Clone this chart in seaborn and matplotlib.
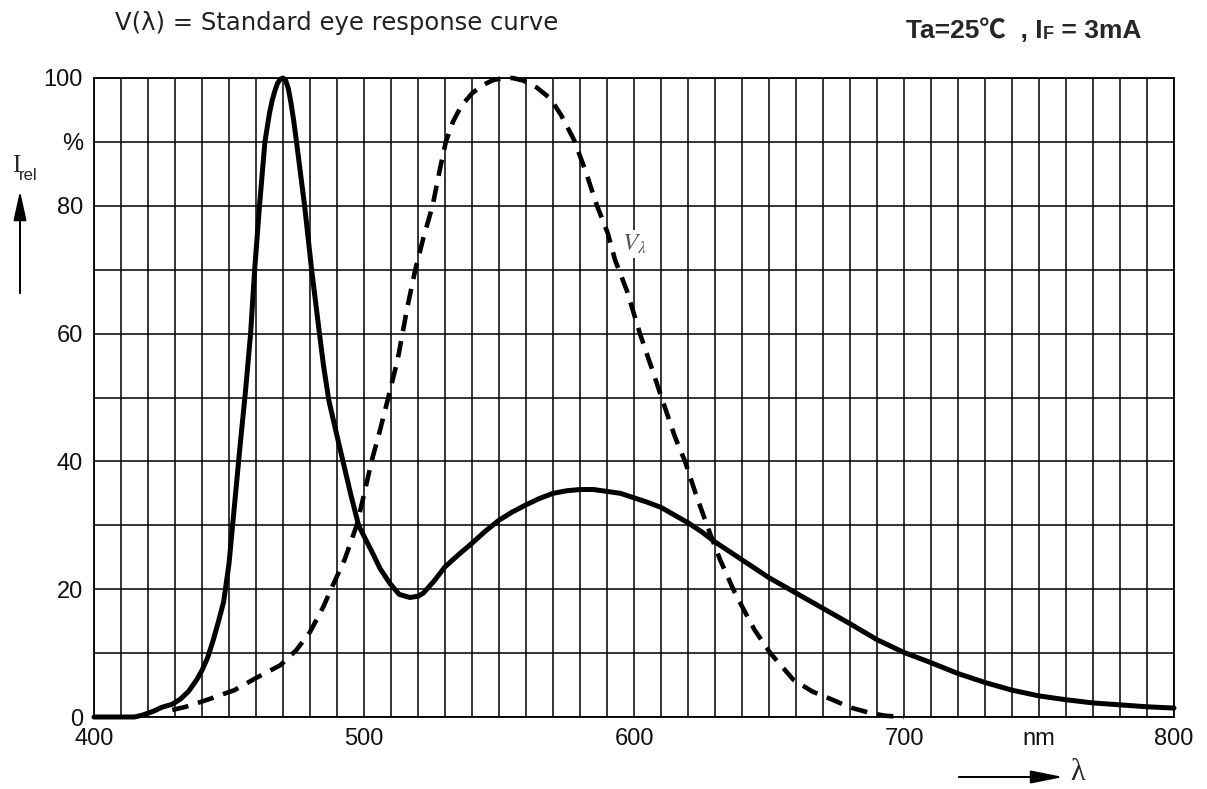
import numpy as np
import pandas as pd
import matplotlib
matplotlib.use("Agg")
import matplotlib.pyplot as plt
import seaborn as sns

# LED relative spectral emission (solid curve)
led_nm = [400, 405, 410, 415, 418, 422, 425, 429, 432, 435, 438, 440, 442, 444, 446, 448,
          450, 452, 454, 456, 458, 459.5, 461.3, 463.3, 465, 466, 467, 468, 469, 470, 471,
          472, 473, 474, 475, 476.5, 478, 480.6, 483.5, 485, 487, 490, 492.5, 495, 498,
          500, 503, 506, 509.6, 513, 517, 520, 522, 526, 530, 535, 540, 545, 550, 555, 560,
          565, 570, 575, 580, 585, 590, 595, 600, 605, 610, 615, 620, 625, 630, 640,
          650, 660, 670, 680, 690, 700, 710, 720, 730, 740, 750, 760, 770, 780, 790, 800]
led_rel = [0, 0, 0, 0, 0.3, 0.9, 1.5, 2.0, 2.8, 4.0, 5.8, 7.3, 9.2, 11.8, 14.8, 18.0,
           24, 33, 42, 50.5, 60, 70, 80, 90, 94.5, 96.5, 98, 99.2, 99.8, 100, 99.6,
           98.3, 96, 93.2, 90, 85, 80, 70, 60, 55, 49.5, 44, 39.5, 35, 30,
           28.3, 25.8, 23.2, 20.9, 19.2, 18.7, 18.9, 19.4, 21.3, 23.5, 25.4, 27.2, 29.1, 30.8, 32.1, 33.2,
           34.2, 35, 35.4, 35.6, 35.6, 35.3, 35, 34.3, 33.6, 32.8, 31.6, 30.4, 29, 27.4, 24.6,
           21.8, 19.4, 17.0, 14.6, 12.1, 10.1, 8.5, 6.8, 5.4, 4.2, 3.3, 2.7, 2.2, 1.9, 1.6, 1.4]

# standard eye response V(lambda) (dashed curve)
eye_nm = [429, 434, 442, 452, 460, 469, 475, 480, 485, 488, 492.8,
          497.3, 500, 502.8, 506, 509, 512.5, 516, 519, 522, 525.4, 528, 530.3, 533, 536,
          540, 544, 548, 552, 555, 559, 564, 569, 573, 577.8, 582, 586.3, 590.3,
          593, 597.3, 602.2, 607.2, 610.2, 615.2, 618.9, 623.2, 628.1, 631.9, 637.5,
          644.7, 650.5, 655, 659.1, 666, 673.5, 680, 687.8, 693, 700]
eye_rel = [1.1, 1.6, 2.7, 4.2, 6.1, 8.1, 10.5, 13.3, 17.3, 20.2, 24.6,
           30, 34.8, 40, 45, 50, 56, 64, 70, 75, 80, 85.5, 90, 93.2, 95.6,
           97.6, 98.9, 99.7, 100, 100, 99.6, 98.5, 96.8, 94.2, 90.3, 85.5, 80, 75.7,
           71.5, 66.8, 60, 53.8, 50, 43.8, 40, 34.5, 28.8, 24.6, 19.3,
           13.6, 10, 7.8, 5.8, 4.0, 2.7, 1.5, 0.6, 0.2, 0]

x_ticks = list(range(400, 801, 10))
x_labels = {400: "400", 500: "500", 600: "600", 700: "700", 750: "nm", 800: "800"}
y_ticks = list(range(0, 101, 10))
y_labels = {0: "0", 20: "20", 40: "40", 60: "60", 80: "80", 90: "%", 100: "100"}

led_df = pd.DataFrame({"nm": led_nm, "rel": led_rel})
eye_df = pd.DataFrame({"nm": eye_nm, "rel": eye_rel})

sns.set_style("white")
plt.rcParams["font.family"] = ["Liberation Sans", "DejaVu Sans"]
plt.rcParams["mathtext.fontset"] = "stix"

W, H = 1207, 789
fig = plt.figure(figsize=(W / 100, H / 100), dpi=100)
ax = fig.add_axes([94 / W, 72 / H, 1080 / W, 639 / H])

sns.lineplot(data=led_df, x="nm", y="rel", ax=ax, color="black", lw=3.6,
             errorbar=None, clip_on=False)
sns.lineplot(data=eye_df, x="nm", y="rel", ax=ax, color="black", lw=3.3,
             errorbar=None, clip_on=False)
ax.lines[-1].set_dashes((3.6, 2.2))

ax.set_xlim(400, 800)
ax.set_ylim(0, 100)
ax.set_xticks(x_ticks)
ax.set_xticklabels([x_labels.get(t, "") for t in x_ticks])
ax.set_yticks(y_ticks)
ax.set_yticklabels([y_labels.get(t, "") for t in y_ticks])
ax.tick_params(length=0, labelsize=17, pad=8, colors="#111111")
ax.set_xlabel("")
ax.set_ylabel("")
ax.grid(True, color="black", lw=1.1)
ax.set_axisbelow(True)
for s in ax.spines.values():
    s.set_color("black")
    s.set_linewidth(1.3)

# V lambda label
ax.text(595.5, 74, r"$V_\lambda$", fontsize=18, color="#555555", va="center", ha="left",
        bbox=dict(facecolor="white", edgecolor="none", pad=1.5))

# I_rel axis marker
fig.text(12 / W, 1 - 172 / H, "I", family="Liberation Serif", fontsize=18, va="baseline")
fig.text(19 / W, 1 - 180 / H, "rel", fontsize=12, va="baseline")
ax.annotate("", xy=(20, H - 188), xytext=(20, H - 296), xycoords="figure pixels",
            textcoords="figure pixels",
            arrowprops=dict(arrowstyle="-|>,head_length=1.0,head_width=0.22",
                            lw=1.4, color="black", mutation_scale=18))

# lambda axis marker
ax.annotate("", xy=(1066, 12), xytext=(956, 12), xycoords="figure pixels",
            textcoords="figure pixels",
            arrowprops=dict(arrowstyle="-|>,head_length=1.1,head_width=0.22",
                            lw=1.4, color="black", mutation_scale=18))
fig.text(1070 / W, 16 / H, "λ", family="Liberation Serif", fontsize=22, va="center")

# header texts
fig.text(115 / W, 1 - 23 / H, "V(λ) = Standard eye response curve",
         family="DejaVu Sans", fontsize=17.5, va="center", color="#222222")
t1 = fig.text(906 / W, 1 - 38 / H, "Ta=25℃  , I", fontsize=19, va="baseline",
              family=["Liberation Sans", "Noto Sans CJK KR"], weight="bold")
t2 = ax.annotate("F", xy=(1, 0), xycoords=t1, fontsize=13, va="bottom",
                 family="Liberation Sans", weight="bold")
t3 = ax.annotate(" = 3mA", xy=(1, 0), xycoords=t2, fontsize=19, va="bottom",
                 family="Liberation Sans", weight="bold")

fig.savefig("out.png", dpi=100)
